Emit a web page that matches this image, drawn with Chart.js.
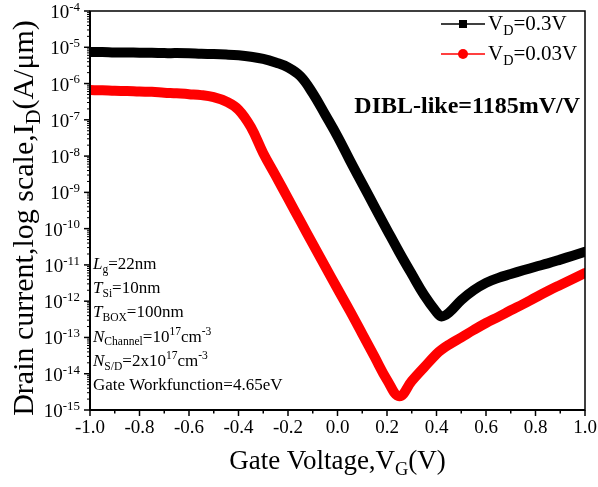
<!DOCTYPE html>
<html>
<head>
<meta charset="utf-8">
<script src="https://cdn.jsdelivr.net/npm/chart.js@4.4.1/dist/chart.umd.min.js"></script>
<style>
  html, body { margin: 0; padding: 0; background: #fff; }
  #wrap { width: 598px; height: 487px; position: relative; }
</style>
</head>
<body>
<div id="wrap"><canvas id="idChart"></canvas></div>
<script>
// gate voltage (V)
const vg = [-1.00, -0.95, -0.90, -0.85, -0.80, -0.75, -0.70, -0.65, -0.60, -0.55,
  -0.50, -0.45, -0.40, -0.35, -0.30, -0.25, -0.20, -0.15, -0.10, -0.05,
  0.00, 0.05, 0.10, 0.15, 0.20, 0.25, 0.30, 0.35, 0.40, 0.42,
  0.45, 0.50, 0.55, 0.60, 0.65, 0.70, 0.75, 0.80, 0.85, 0.90, 0.95, 1.00];

// drain current (A/um), VD = 0.3V
const idHigh = [7.4e-6, 7.4e-6, 7.2e-6, 7.2e-6, 7.1e-6, 7.1e-6, 6.9e-6, 6.9e-6, 6.8e-6, 6.6e-6,
  6.5e-6, 6.3e-6, 6.0e-6, 5.5e-6, 4.8e-6, 3.8e-6, 2.8e-6, 1.6e-6, 5.4e-7, 1.4e-7,
  3.5e-8, 7.6e-9, 1.74e-9, 4.0e-10, 9.3e-11, 2.2e-11, 5.6e-12, 1.48e-12, 5.0e-13, 3.8e-13,
  4.8e-13, 1.07e-12, 2.0e-12, 3.2e-12, 4.4e-12, 5.6e-12, 7.1e-12, 8.9e-12, 1.1e-11, 1.4e-11, 1.8e-11, 2.3e-11];

// drain current (A/um), VD = 0.03V
const idLow = [6.6e-7, 6.5e-7, 6.3e-7, 6.2e-7, 6.0e-7, 5.9e-7, 5.6e-7, 5.4e-7, 5.1e-7, 4.8e-7,
  4.2e-7, 3.2e-7, 1.9e-7, 6.3e-8, 1.2e-8, 2.9e-9, 6.8e-10, 1.6e-10, 3.8e-11, 9.1e-12,
  2.2e-12, 5.4e-13, 1.26e-13, 2.9e-14, 6.8e-15, 2.4e-15, 6.3e-15, 1.5e-14, 3.5e-14, 4.6e-14,
  6.3e-14, 1.0e-13, 1.6e-13, 2.5e-13, 3.7e-13, 5.6e-13, 8.3e-13, 1.26e-12, 1.9e-12, 2.8e-12, 4.1e-12, 6.0e-12];

const seriesNames = ["VD=0.3V", "VD=0.03V"];
const seriesColors = ["#000000", "#ff0000"];

// tick labels
const xTickLabels = ["-1.0", "-0.8", "-0.6", "-0.4", "-0.2", "0.0", "0.2", "0.4", "0.6", "0.8", "1.0"];
const xMinorTicks = [-0.9, -0.7, -0.5, -0.3, -0.1, 0.1, 0.3, 0.5, 0.7, 0.9];
const yTickExps = [-4, -5, -6, -7, -8, -9, -10, -11, -12, -13, -14, -15];

const SERIF = '"Liberation Serif", "Times New Roman", serif';

// rich text: segs = [[text, style]], style '' | 'i' | 'sub' | 'sup'
function richWidth(ctx, segs, size, bold) {
  let w = 0;
  segs.forEach(([t, s]) => {
    const sz = (s === "sub" || s === "sup") ? size * 0.68 : size;
    ctx.font = (s === "i" ? "italic " : "") + (bold ? "bold " : "") + sz + "px " + SERIF;
    w += ctx.measureText(t).width;
  });
  return w;
}
function drawRich(ctx, x, y, segs, size, bold) {
  let cx = x;
  segs.forEach(([t, s]) => {
    let sz = size, dy = 0;
    if (s === "sub") { sz = size * 0.68; dy = size * 0.22; }
    if (s === "sup") { sz = size * 0.68; dy = -size * 0.38; }
    ctx.font = (s === "i" ? "italic " : "") + (bold ? "bold " : "") + sz + "px " + SERIF;
    ctx.fillText(t, cx, y + dy);
    cx += ctx.measureText(t).width;
  });
  return cx;
}

const params = [
  [["L", "i"], ["g", "sub"], ["=22nm", ""]],
  [["T", "i"], ["Si", "sub"], ["=10nm", ""]],
  [["T", "i"], ["BOX", "sub"], ["=100nm", ""]],
  [["N", "i"], ["Channel", "sub"], ["=10", ""], ["17", "sup"], ["cm", ""], ["-3", "sup"]],
  [["N", "i"], ["S/D", "sub"], ["=2x10", ""], ["17", "sup"], ["cm", ""], ["-3", "sup"]],
  [["Gate Workfunction=4.65eV", ""]]
];

const decorPlugin = {
  id: "decor",
  afterDatasetsDraw(chart) {
    const { ctx, chartArea: a, scales: { x, y } } = chart;
    ctx.save();
    ctx.fillStyle = "#000";
    ctx.strokeStyle = "#000";

    // frame
    ctx.lineWidth = 1.5;
    ctx.strokeRect(a.left, a.top, a.right - a.left, a.bottom - a.top);
    ctx.lineWidth = 2;
    ctx.beginPath();
    ctx.moveTo(a.left, a.top); ctx.lineTo(a.left, a.bottom); ctx.lineTo(a.right, a.bottom);
    ctx.stroke();

    // x ticks
    ctx.lineWidth = 1.5;
    ctx.textAlign = "center";
    ctx.textBaseline = "alphabetic";
    ctx.font = "19px " + SERIF;
    xTickLabels.forEach(lbl => {
      const px = x.getPixelForValue(parseFloat(lbl));
      ctx.beginPath(); ctx.moveTo(px, a.bottom); ctx.lineTo(px, a.bottom + 6); ctx.stroke();
      ctx.fillText(lbl, px, a.bottom + 23);
    });
    xMinorTicks.forEach(v => {
      const px = x.getPixelForValue(v);
      ctx.beginPath(); ctx.moveTo(px, a.bottom); ctx.lineTo(px, a.bottom + 3.5); ctx.stroke();
    });

    // y ticks
    ctx.textAlign = "left";
    yTickExps.forEach(e => {
      const py = y.getPixelForValue(Math.pow(10, e));
      ctx.lineWidth = 1.5;
      ctx.beginPath(); ctx.moveTo(a.left - 6, py); ctx.lineTo(a.left, py); ctx.stroke();
      const segs = [["10", ""], [String(e), "sup"]];
      const w = richWidth(ctx, segs, 19, false);
      drawRich(ctx, a.left - 10 - w, py + 7, segs, 19, false);
      if (e > -15) {
        ctx.lineWidth = 1;
        for (let k = 2; k <= 9; k++) {
          const pm = y.getPixelForValue(k * Math.pow(10, e - 1));
          ctx.beginPath(); ctx.moveTo(a.left - 3, pm); ctx.lineTo(a.left, pm); ctx.stroke();
        }
      }
    });

    // axis titles
    const xt = [["Gate Voltage,V", ""], ["G", "sub"], ["(V)", ""]];
    const xw = richWidth(ctx, xt, 27, false);
    drawRich(ctx, (a.left + a.right) / 2 - xw / 2, 469, xt, 27, false);

    const yt = [["Drain current,log scale,I", ""], ["D", "sub"], ["(A/\u03bcm)", ""]];
    const yw = richWidth(ctx, yt, 30, false);
    ctx.save();
    ctx.translate(33, 218);
    ctx.rotate(-Math.PI / 2);
    drawRich(ctx, -yw / 2, 0, yt, 30, false);
    ctx.restore();

    // legend
    const rows = [24, 54];
    seriesNames.forEach((name, i) => {
      const ly = rows[i];
      ctx.strokeStyle = seriesColors[i];
      ctx.fillStyle = seriesColors[i];
      ctx.lineWidth = 1.5;
      ctx.beginPath(); ctx.moveTo(441, ly); ctx.lineTo(485, ly); ctx.stroke();
      if (i === 0) {
        ctx.fillRect(459, ly - 4, 8, 8);
      } else {
        ctx.beginPath(); ctx.arc(463, ly, 5, 0, Math.PI * 2); ctx.fill();
      }
      ctx.fillStyle = "#000";
      drawRich(ctx, 488, ly + 6, [["V", ""], ["D", "sub"], [name.slice(2), ""]], 21, false);
    });

    // DIBL note
    const dibl = [["DIBL-like=1185mV/V", ""]];
    const dw = richWidth(ctx, dibl, 24, true);
    drawRich(ctx, 580 - dw, 113, dibl, 24, true);

    // device parameters
    params.forEach((segs, i) => {
      drawRich(ctx, 93, 269 + i * 24.2, segs, 17, false);
    });

    ctx.restore();
  }
};

new Chart(document.getElementById("idChart"), {
  type: "line",
  data: {
    datasets: [
      {
        label: seriesNames[0],
        data: vg.map((v, i) => ({ x: v, y: idHigh[i] })),
        borderColor: seriesColors[0],
        backgroundColor: seriesColors[0],
        borderWidth: 10,
        pointStyle: "rect",
        pointRadius: 0,
        tension: 0.4,
        borderJoinStyle: "round",
        borderCapStyle: "round"
      },
      {
        label: seriesNames[1],
        data: vg.map((v, i) => ({ x: v, y: idLow[i] })),
        borderColor: seriesColors[1],
        backgroundColor: seriesColors[1],
        borderWidth: 10,
        pointStyle: "circle",
        pointRadius: 0,
        tension: 0.4,
        borderJoinStyle: "round",
        borderCapStyle: "round"
      }
    ]
  },
  options: {
    responsive: true,
    maintainAspectRatio: false,
    animation: false,
    layout: { padding: { left: 90, top: 11, right: 13, bottom: 77 } },
    plugins: { legend: { display: false }, tooltip: { enabled: false } },
    scales: {
      x: { type: "linear", min: -1, max: 1, display: false },
      y: { type: "logarithmic", min: 1e-15, max: 1e-4, display: false }
    }
  },
  plugins: [decorPlugin]
});
</script>
</body>
</html>
